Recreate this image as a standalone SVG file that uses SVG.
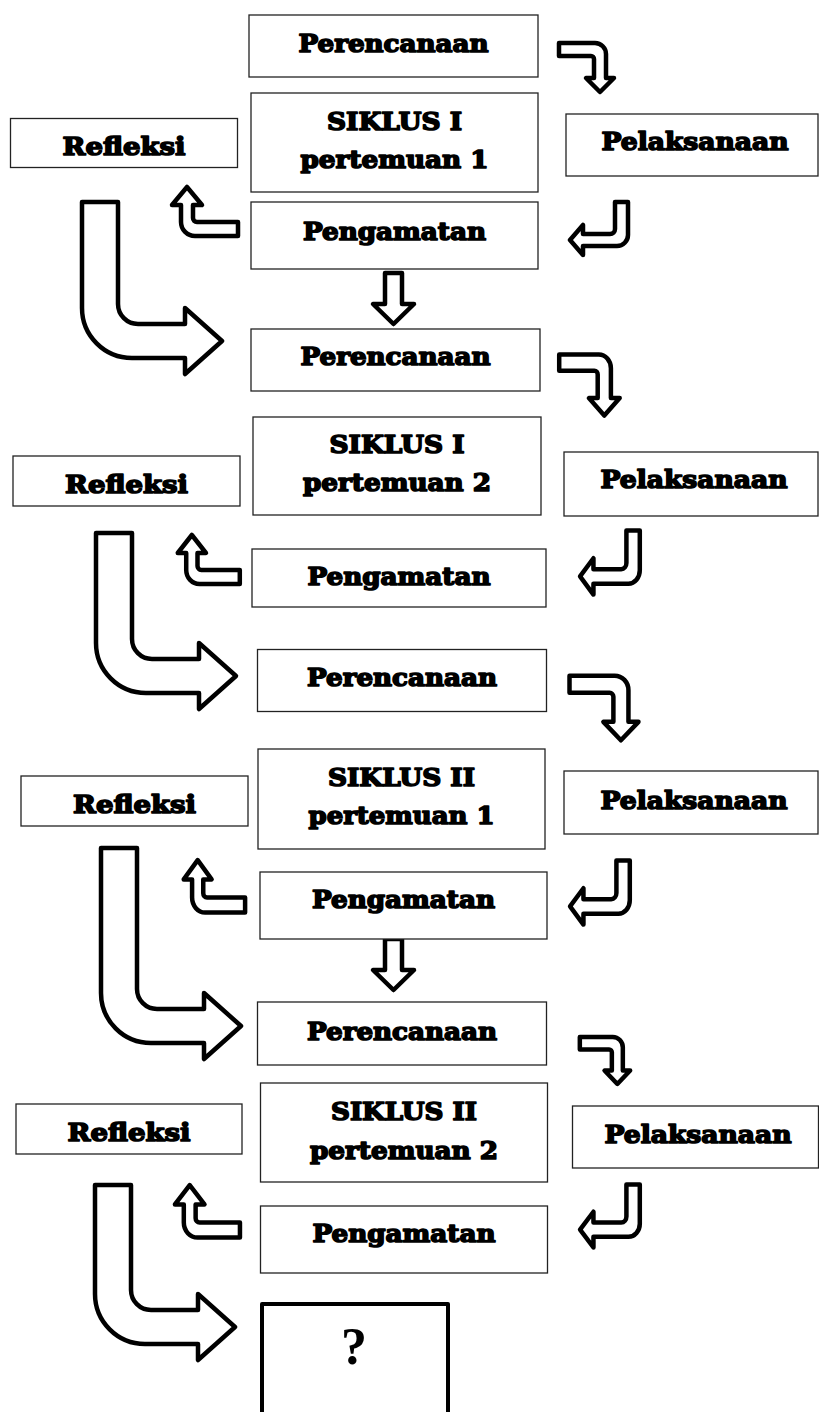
<svg xmlns="http://www.w3.org/2000/svg" xmlns:xlink="http://www.w3.org/1999/xlink" width="819" height="1412" viewBox="0 0 819 1412">
<style>
.box{fill:#fff;stroke:#222;stroke-width:1.3}
.qbox{fill:#fff;stroke:#000;stroke-width:4;stroke-linejoin:round}
.t{font-family:"DejaVu Serif","Liberation Serif",serif;font-weight:bold;font-size:24px;fill:#000;stroke:#000;stroke-width:1.6;stroke-linejoin:round;text-anchor:middle}
.q{font-family:"Liberation Serif","DejaVu Serif",serif;font-weight:bold;font-size:52px;fill:#000;text-anchor:middle}
.arr{fill:#fff;stroke:#000;stroke-width:4.5;stroke-linejoin:round;vector-effect:non-scaling-stroke}
</style>
<defs>
<path id="arrA" class="arr" d="M2,2 H38 A11,11 0 0 1 49,13 V37 H57 L43,51 L29,37 H37 V18 A3,3 0 0 0 34,15 H2 Z"/>
<path id="arrB" class="arr" d="M47,2 H60 V35 A11,11 0 0 1 49,46 H15 V55 L2,40 L15,25 V34 H42 A5,5 0 0 0 47,29 Z"/>
<path id="arrC" class="arr" d="M19,2 L34,20 H25 V33 A4,4 0 0 0 29,37 H70 V51 H27 A14,14 0 0 1 13,37 V20 H4 Z"/>
<path id="arrE" class="arr" d="M15,3 H32 V34 H44 L23.5,54 L3,34 H15 Z"/>
</defs>

<g id="connectors">
<use xlink:href="#arrA" transform="translate(557,41)"/>
<use xlink:href="#arrB" transform="translate(568,200)"/>
<use xlink:href="#arrC" transform="translate(168,185)"/>
<use xlink:href="#arrE" transform="translate(370,270)"/>
<path class="arr" d="M82,202 H118 V304 A20,20 0 0 0 138,324 H185 V308 L222,341 L185,374 V358 H132 A50,50 0 0 1 82,308 Z"/>

<use xlink:href="#arrA" transform="translate(557,352) scale(1.1,1.245)"/>
<use xlink:href="#arrB" transform="translate(578,528) scale(1.03,1.21)"/>
<use xlink:href="#arrC" transform="translate(174,533) scale(0.94,1)"/>
<path class="arr" d="M96,533 H132 V639 A20,20 0 0 0 152,659 H199 V643 L236,676 L199,709 V693 H146 A50,50 0 0 1 96,643 Z"/>

<use xlink:href="#arrA" transform="translate(567,673) scale(1.254,1.32)"/>
<use xlink:href="#arrB" transform="translate(568,858) scale(1.03,1.21)"/>
<use xlink:href="#arrC" transform="translate(180,858) scale(0.93,1.07)"/>
<use xlink:href="#arrE" transform="translate(370,936)"/>
<path class="arr" d="M101,848 H137 V989 A20,20 0 0 0 157,1009 H204 V993 L241,1026 L204,1059 V1043 H151 A50,50 0 0 1 101,993 Z"/>

<use xlink:href="#arrA" transform="translate(578,1035) scale(0.915,0.96)"/>
<use xlink:href="#arrB" transform="translate(578,1182) scale(1.03,1.19)"/>
<use xlink:href="#arrC" transform="translate(171,1183) scale(0.985,1.07)"/>
<path class="arr" d="M95,1185 H131 V1290 A20,20 0 0 0 151,1310 H198 V1294 L235,1327 L198,1360 V1344 H145 A50,50 0 0 1 95,1294 Z"/>
</g>

<g id="perencanaan1"><rect class="box" x="249" y="15" width="289" height="62"/><text class="t" x="393.5" y="52" textLength="190" lengthAdjust="spacingAndGlyphs">Perencanaan</text></g>
<g id="siklus1p1"><rect class="box" x="251" y="93" width="287" height="99"/><text class="t" x="394.5" y="130" textLength="135" lengthAdjust="spacingAndGlyphs">SIKLUS I</text><text class="t" x="394.5" y="168" textLength="188" lengthAdjust="spacingAndGlyphs">pertemuan 1</text></g>
<g id="refleksi1"><rect class="box" x="10.5" y="118.5" width="227" height="49"/><text class="t" x="124" y="155" textLength="123" lengthAdjust="spacingAndGlyphs">Refleksi</text></g>
<g id="pelaksanaan1"><rect class="box" x="566" y="114" width="252" height="62"/><text class="t" x="695" y="150" textLength="187" lengthAdjust="spacingAndGlyphs">Pelaksanaan</text></g>
<g id="pengamatan1"><rect class="box" x="251" y="202" width="287" height="67"/><text class="t" x="394.5" y="240" textLength="183" lengthAdjust="spacingAndGlyphs">Pengamatan</text></g>

<g id="perencanaan2"><rect class="box" x="251" y="329" width="289" height="62"/><text class="t" x="395.5" y="365" textLength="190" lengthAdjust="spacingAndGlyphs">Perencanaan</text></g>
<g id="siklus1p2"><rect class="box" x="253" y="417" width="288" height="98"/><text class="t" x="397" y="453" textLength="135" lengthAdjust="spacingAndGlyphs">SIKLUS I</text><text class="t" x="397" y="491" textLength="188" lengthAdjust="spacingAndGlyphs">pertemuan 2</text></g>
<g id="refleksi2"><rect class="box" x="13" y="456" width="227" height="50"/><text class="t" x="126.5" y="493" textLength="123" lengthAdjust="spacingAndGlyphs">Refleksi</text></g>
<g id="pelaksanaan2"><rect class="box" x="564" y="452" width="254" height="64"/><text class="t" x="694" y="488" textLength="187" lengthAdjust="spacingAndGlyphs">Pelaksanaan</text></g>
<g id="pengamatan2"><rect class="box" x="252" y="549" width="294" height="58"/><text class="t" x="399" y="585" textLength="183" lengthAdjust="spacingAndGlyphs">Pengamatan</text></g>

<g id="perencanaan3"><rect class="box" x="257.5" y="649.5" width="289" height="62"/><text class="t" x="402" y="686" textLength="190" lengthAdjust="spacingAndGlyphs">Perencanaan</text></g>
<g id="siklus2p1"><rect class="box" x="258" y="749" width="287" height="100"/><text class="t" x="401.5" y="786" textLength="147" lengthAdjust="spacingAndGlyphs">SIKLUS II</text><text class="t" x="401.5" y="824" textLength="186" lengthAdjust="spacingAndGlyphs">pertemuan 1</text></g>
<g id="refleksi3"><rect class="box" x="21" y="776" width="227" height="50"/><text class="t" x="134.5" y="813" textLength="123" lengthAdjust="spacingAndGlyphs">Refleksi</text></g>
<g id="pelaksanaan3"><rect class="box" x="564" y="771" width="254" height="63"/><text class="t" x="694" y="809" textLength="187" lengthAdjust="spacingAndGlyphs">Pelaksanaan</text></g>
<g id="pengamatan3"><rect class="box" x="260" y="872" width="287" height="67"/><text class="t" x="403.5" y="908" textLength="183" lengthAdjust="spacingAndGlyphs">Pengamatan</text></g>

<g id="perencanaan4"><rect class="box" x="257.5" y="1002" width="289" height="63"/><text class="t" x="402" y="1040" textLength="190" lengthAdjust="spacingAndGlyphs">Perencanaan</text></g>
<g id="siklus2p2"><rect class="box" x="260.5" y="1083" width="287" height="99"/><text class="t" x="404" y="1120" textLength="146" lengthAdjust="spacingAndGlyphs">SIKLUS II</text><text class="t" x="404" y="1159" textLength="188" lengthAdjust="spacingAndGlyphs">pertemuan 2</text></g>
<g id="refleksi4"><rect class="box" x="16" y="1104" width="226" height="50"/><text class="t" x="129" y="1141" textLength="123" lengthAdjust="spacingAndGlyphs">Refleksi</text></g>
<g id="pelaksanaan4"><rect class="box" x="572.5" y="1106" width="246" height="62"/><text class="t" x="698" y="1143" textLength="187" lengthAdjust="spacingAndGlyphs">Pelaksanaan</text></g>
<g id="pengamatan4"><rect class="box" x="260.5" y="1206" width="287" height="67"/><text class="t" x="404" y="1242" textLength="183" lengthAdjust="spacingAndGlyphs">Pengamatan</text></g>

<g id="hasil"><rect class="qbox" x="262" y="1304" width="186" height="140"/><text class="q" x="354" y="1364">?</text></g>
</svg>
